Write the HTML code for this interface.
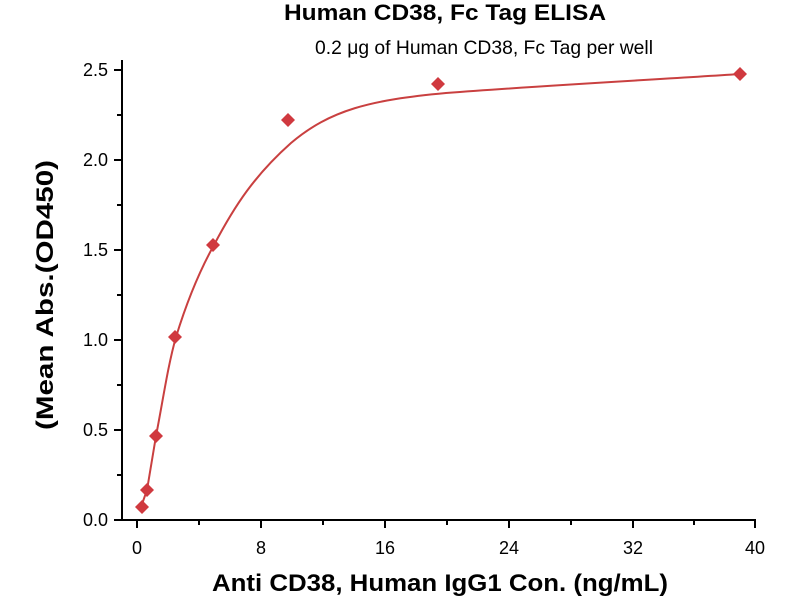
<!DOCTYPE html>
<html><head><meta charset="utf-8"><style>
body{margin:0;background:#fff;width:800px;height:600px;overflow:hidden}
text{font-family:"Liberation Sans",sans-serif}
</style></head><body>
<svg id="s" width="800" height="600" xmlns="http://www.w3.org/2000/svg">
<text x="445" y="20" font-size="22" font-weight="bold" text-anchor="middle" textLength="322" lengthAdjust="spacingAndGlyphs">Human CD38, Fc Tag ELISA</text>
<text x="484" y="54" font-size="19" text-anchor="middle" textLength="338" lengthAdjust="spacingAndGlyphs">0.2 μg of Human CD38, Fc Tag per well</text>
<g stroke="#000" stroke-width="2" fill="none">
<line x1="122" y1="520" x2="756" y2="520"/>
<line x1="122" y1="60" x2="122" y2="521"/>
<path d="M137 520v8M261 520v8M385 520v8M509 520v8M633 520v8M755 520v8M199 520v5M323 520v5M447 520v5M571 520v5M694 520v5"/>
<path d="M122 520h-8M122 430h-8M122 340h-8M122 250h-8M122 160h-8M122 70h-8M122 475h-5M122 385h-5M122 295h-5M122 205h-5M122 115h-5"/>
</g>
<g font-size="18" text-anchor="middle">
<text x="137" y="554">0</text><text x="261" y="554">8</text><text x="385" y="554">16</text><text x="509" y="554">24</text><text x="633" y="554">32</text><text x="755" y="554">40</text>
</g>
<g font-size="18" text-anchor="end">
<text x="108" y="526">0.0</text><text x="108" y="436">0.5</text><text x="108" y="346">1.0</text><text x="108" y="256">1.5</text><text x="108" y="166">2.0</text><text x="108" y="76">2.5</text>
</g>
<text x="440" y="591" font-size="24" font-weight="bold" text-anchor="middle" textLength="456" lengthAdjust="spacingAndGlyphs">Anti CD38, Human IgG1 Con. (ng/mL)</text>
<text transform="translate(53,295) rotate(-90)" font-size="24" font-weight="bold" text-anchor="middle" textLength="270" lengthAdjust="spacingAndGlyphs">(Mean Abs.(OD450)</text>
<path d="M141 507 L147 490 L156 436 C163 400 168 365 176 337 C188 298 200 270 214 245 C235 205 255 175 291 143 C330 110 370 100 446 93 C550 85 650 80 740 74" stroke="#c94040" stroke-width="2" fill="none"/>
<g fill="#d0393f">
<path d="M142 500l7 7-7 7-7-7z"/><path d="M147 483l7 7-7 7-7-7z"/><path d="M156 429l7 7-7 7-7-7z"/><path d="M175 330l7 7-7 7-7-7z"/><path d="M213 238l7 7-7 7-7-7z"/><path d="M288 113l7 7-7 7-7-7z"/><path d="M438 77l7 7-7 7-7-7z"/><path d="M740 67l7 7-7 7-7-7z"/>
</g>
</svg>
</body></html>
